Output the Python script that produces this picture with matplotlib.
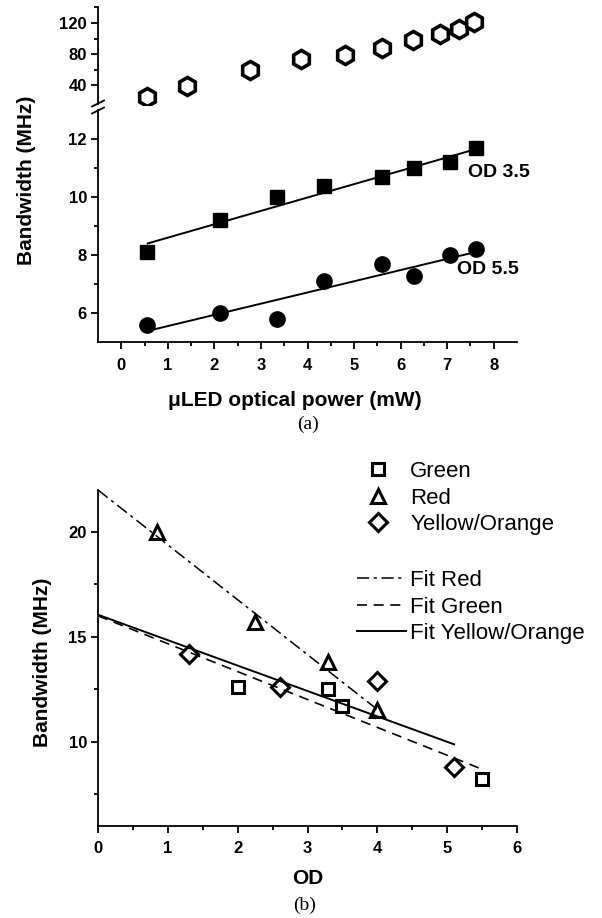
import numpy as np
import matplotlib.pyplot as plt
from matplotlib.lines import Line2D

plt.rcParams['font.family'] = ['Liberation Sans', 'DejaVu Sans']

# (a) bandwidth vs uLED optical power
power_open = [0.55, 1.41, 2.77, 3.86, 4.80, 5.59, 6.27, 6.84, 7.25, 7.57]
bw_open = [25.0, 38.7, 59.3, 73.4, 79.4, 88.4, 98.6, 105.5, 111.9, 121.3]

power_od = [0.55, 2.13, 3.35, 4.35, 5.60, 6.29, 7.07, 7.63]
bw_od35 = [8.1, 9.2, 10.0, 10.4, 10.7, 11.0, 11.2, 11.7]
bw_od55 = [5.6, 6.0, 5.8, 7.1, 7.7, 7.3, 8.0, 8.2]
fit_x = [0.57, 7.63]
fit_od35 = [8.41, 11.66]
fit_od55 = [5.40, 8.12]

# (b) bandwidth vs OD
od_green = [2.0, 3.3, 3.5, 5.5]
bw_green = [12.6, 12.5, 11.7, 8.2]
od_red = [0.85, 2.25, 3.3, 4.0]
bw_red = [20.0, 15.7, 13.8, 11.5]
od_yellow = [1.3, 2.6, 4.0, 5.1]
bw_yellow = [14.2, 12.6, 12.9, 8.8]

fit_red_x = [0.0, 4.05]
fit_red_y = [22.0, 11.4]
fit_green_x = [0.0, 5.45]
fit_green_y = [16.0, 8.75]
fit_yellow_x = [0.0, 5.1]
fit_yellow_y = [16.05, 9.87]

W, H = 602, 918
fig = plt.figure(figsize=(W / 100, H / 100), dpi=100)


def box(left, top, right, bottom):
    # pixel box -> figure fraction
    return [left / W, 1 - bottom / H, (right - left) / W, (bottom - top) / H]


def style(ax):
    for s in ['top', 'right']:
        ax.spines[s].set_visible(False)
    for s in ['left', 'bottom']:
        ax.spines[s].set_linewidth(1.3)
    ax.tick_params(which='major', direction='out', length=5, width=1.3,
                   labelsize=12, pad=3)
    ax.tick_params(which='minor', direction='out', length=3, width=1.3)
    for lab in ax.get_xticklabels() + ax.get_yticklabels():
        lab.set_fontweight('bold')


ax_top = fig.add_axes(box(98, 6.7, 517, 104.5))
ax_low = fig.add_axes(box(98, 110, 517, 342.5))
ax_b = fig.add_axes(box(98, 490, 517, 825.5))

# ---- panel (a), upper part
ax_top.plot(power_open, bw_open, 'h', ms=13, mfc='white', mec='black', mew=2.6)
ax_top.set_xlim(-0.5, 8.5)
ax_top.set_ylim(15.0, 141)
ax_top.set_yticks([40, 80, 120])
ax_top.set_yticks([60, 100, 140], minor=True)
ax_top.set_xticks([])
ax_top.spines['bottom'].set_visible(False)
style(ax_top)

# ---- panel (a), lower part
ax_low.plot(power_od, bw_od35, 's', ms=10, color='black')
ax_low.plot(power_od, bw_od55, 'o', ms=11, color='black')
ax_low.plot(fit_x, fit_od35, '-', color='black', lw=1.4)
ax_low.plot(fit_x, fit_od55, '-', color='black', lw=1.4)
ax_low.set_xlim(-0.5, 8.5)
ax_low.set_ylim(5.0, 13.0)
ax_low.set_yticks([6, 8, 10, 12])
ax_low.set_yticks([7, 9, 11], minor=True)
ax_low.set_xticks(range(0, 9))
ax_low.set_xticks(np.arange(0.5, 8.5, 1), minor=True)
style(ax_low)
ax_low.tick_params(axis='x', pad=6)
ax_low.text(7.45, 10.85, 'OD 3.5', fontsize=14, fontweight='bold', va='center')
ax_low.text(7.22, 7.5, 'OD 5.5', fontsize=14, fontweight='bold', va='center')

# break marks on the y axis
for yb in [103.5, 110.5]:
    fig.add_artist(Line2D([92 / W, 104 / W], [1 - (yb + 3) / H, 1 - (yb - 3) / H],
                          color='black', lw=1.3))

fig.text(27 / W, 1 - 180 / H, 'Bandwidth (MHz)', rotation=90, ha='center',
         va='center', fontsize=15, fontweight='bold')
fig.text(295 / W, 1 - 400 / H, '\u03bcLED optical power (mW)', ha='center',
         va='center', fontsize=15, fontweight='bold')
fig.text(308 / W, 1 - 424 / H, '(a)', ha='center', va='center', fontsize=14,
         family='Liberation Serif')

# ---- panel (b)
g, = ax_b.plot(od_green, bw_green, 's', ms=8, mfc='white', mec='black', mew=2.2)
r, = ax_b.plot(od_red, bw_red, '^', ms=10, mfc='white', mec='black', mew=2.2)
y, = ax_b.plot(od_yellow, bw_yellow, 'D', ms=9, mfc='white', mec='black', mew=2.2)
fr, = ax_b.plot(fit_red_x, fit_red_y, color='black', lw=1.1, dashes=[8, 3, 2, 3])
fg, = ax_b.plot(fit_green_x, fit_green_y, color='black', lw=1.2, dashes=[6, 4])
fy, = ax_b.plot(fit_yellow_x, fit_yellow_y, color='black', lw=1.4)
ax_b.set_xlim(0, 6)
ax_b.set_ylim(6, 22)
ax_b.set_xticks(range(0, 7))
ax_b.set_xticks(np.arange(0.5, 6, 1), minor=True)
ax_b.set_yticks([10, 15, 20])
ax_b.set_yticks([7.5, 12.5, 17.5], minor=True)
style(ax_b)
ax_b.tick_params(axis='x', pad=6)

leg1 = ax_b.legend([g, r, y], ['Green', 'Red', 'Yellow/Orange'],
                   loc='upper left', bbox_to_anchor=(367 / W, 1 - 461 / H),
                   bbox_transform=fig.transFigure, frameon=False,
                   fontsize=16, handlelength=1.0, handletextpad=0.95,
                   borderpad=0, borderaxespad=0, labelspacing=0.25)
ax_b.add_artist(leg1)
ax_b.legend([fr, fg, fy], ['Fit Red', 'Fit Green', 'Fit Yellow/Orange'],
            loc='upper left', bbox_to_anchor=(357 / W, 1 - 570 / H),
            bbox_transform=fig.transFigure, frameon=False,
            fontsize=16, handlelength=2.2, handletextpad=0.2,
            borderpad=0, borderaxespad=0, labelspacing=0.25)

fig.text(43 / W, 1 - 662 / H, 'Bandwidth (MHz)', rotation=90, ha='center',
         va='center', fontsize=15, fontweight='bold')
fig.text(308 / W, 1 - 879 / H, 'OD', ha='center', va='center', fontsize=15,
         fontweight='bold')
fig.text(305 / W, 1 - 905 / H, '(b)', ha='center', va='center', fontsize=14,
         family='Liberation Serif')

fig.savefig('out.png', dpi=100)
